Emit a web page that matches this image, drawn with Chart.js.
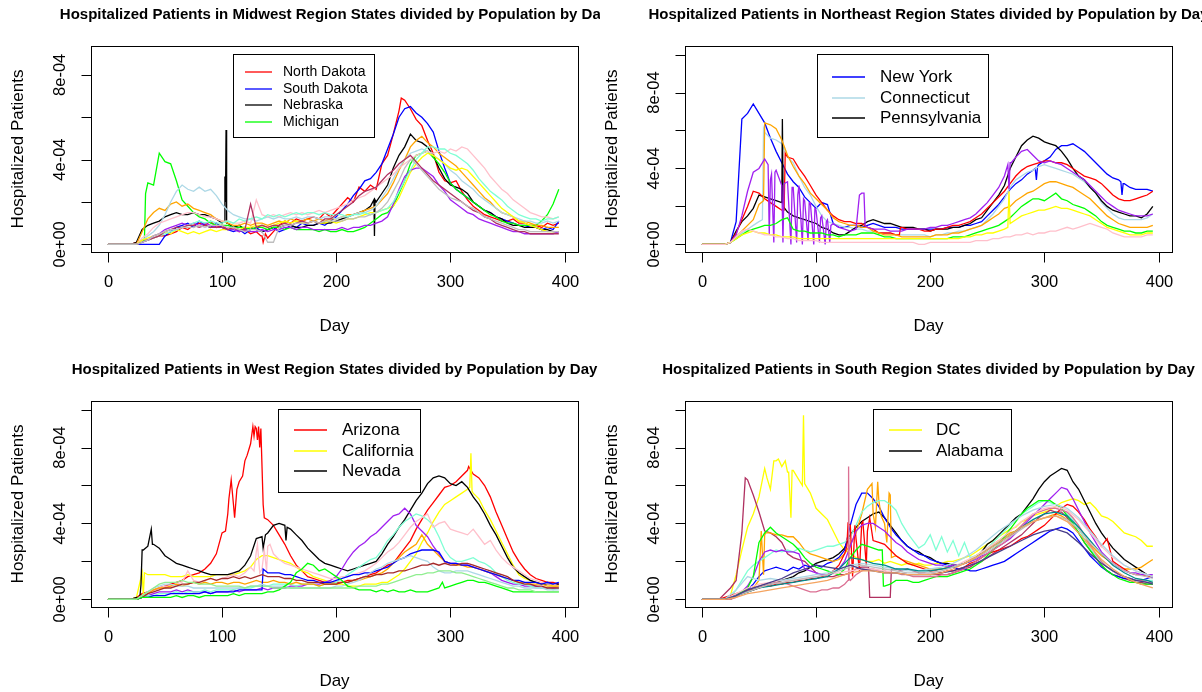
<!DOCTYPE html>
<html>
<head>
<title>Hospitalized Patients by Region</title>
<script src="https://cdn.jsdelivr.net/npm/chart.js"></script>
<style>
    body { margin: 0; background: #fff; }
    .panel { position: absolute; }
</style>
</head>
<body>
<canvas id="midwest" class="panel" width="600" height="345" style="left:0;top:0"></canvas>
<canvas id="northeast" class="panel" width="602" height="345" style="left:600px;top:0"></canvas>
<canvas id="west" class="panel" width="600" height="347" style="left:0;top:345px"></canvas>
<canvas id="south" class="panel" width="602" height="347" style="left:600px;top:345px"></canvas>

<script>
// day grids
const d5 = [0,5,10,15,20,25,30,35,40,45,50,55,60,65,70,75,80,85,90,95,
    100,105,110,115,120,125,130,135,140,145,150,155,160,165,170,175,180,185,190,195,
    200,205,210,215,220,225,230,235,240,245,250,255,260,265,270,275,280,285,290,295,
    300,305,310,315,320,325,330,335,340,345,350,355,360,365,370,375,380,385,390,395];
const d10 = [0,10,20,30,40,50,60,70,80,90,100,110,120,130,140,150,160,170,180,190,
    200,210,220,230,240,250,260,270,280,290,300,310,320,330,340,350,360,370,380,390,395];

const xTicks = [0, 100, 200, 300, 400];

// hospitalized / population, in units of 1e-4

// ---- Midwest ----
const mwNorthDakota = [0,0,0,0,0,0.1,0.2,0.2,0.3,0.4,
    0.4,0.5,0.6,0.8,0.7,0.9,1.0,0.9,1.1,0.8,
    0.9,0.7,0.8,0.6,0.7,0.5,0.6,0.4,0.3,0.6,
    0.9,1.1,1.0,1.2,1.1,1.2,1.3,1.2,1.5,1.3,
    1.6,1.9,2.2,2.0,2.7,2.5,2.8,2.6,3.8,4.2,
    5.2,6.3,6.8,6.4,5.9,5.6,4.9,4.3,3.4,3.0,
    2.9,3.0,2.5,2.1,1.8,1.6,1.4,1.3,1.2,1.1,
    1.1,1.2,1.0,1.0,0.9,0.9,0.8,1.0,0.9,1.0];
const mwNorthDakotaX = [[134,0.4],[136,0.1],[138,0.5],[257,6.9]];
const mwSouthDakota = [0,0,0,0,0,0,0,0,0,0,
    0.4,0.6,0.8,0.9,1.0,0.8,1.1,0.9,0.8,1.0,
    0.8,0.7,0.6,0.7,0.5,0.7,0.8,0.6,0.7,0.8,
    0.6,0.7,0.9,0.8,1.0,0.9,0.9,1.0,0.9,1.1,
    1.3,1.6,1.9,2.3,2.6,3.0,3.1,3.4,3.8,4.5,
    5.2,6.0,6.4,6.5,6.2,6.0,5.7,5.3,4.4,3.6,
    2.9,2.6,2.4,2.2,2.0,1.8,1.6,1.5,1.3,1.2,
    1.1,1.0,0.9,0.9,0.8,0.8,0.7,0.8,0.7,1.1];
const mwNebraska = [0,0,0,0,0,0.1,0.7,0.9,1.0,1.1,
    1.3,1.4,1.5,1.4,1.4,1.5,1.4,1.4,1.3,1.2,
    1.0,1.0,0.8,0.9,0.7,0.8,0.7,0.6,0.7,0.8,
    0.8,0.9,0.9,0.8,0.8,0.9,0.9,1.0,1.0,1.0,
    1.1,1.2,1.3,1.4,1.5,1.6,1.8,2.0,2.4,2.8,
    3.6,4.2,4.6,5.2,4.9,4.8,4.6,4.2,3.6,3.1,
    2.8,2.7,2.6,2.4,2.0,1.8,1.6,1.5,1.3,1.2,
    1.0,0.9,0.9,0.8,0.8,0.8,0.7,0.7,0.6,0.6];
const mwNebraskaX = [[102,1.1],[102.5,3.2],[103,2.0],[103.5,5.4],[104,1.0],[233,2.1],[233.5,0.4],[234,2.1]];
const mwMichigan = [0,0,0,0,0,0,0.1,2.9,2.8,4.3,
    3.9,3.8,3.0,2.1,1.8,1.5,1.3,1.2,1.0,0.9,
    0.9,0.9,0.8,0.8,0.8,0.7,0.8,0.8,0.7,0.8,
    0.8,0.7,0.8,0.7,0.7,0.7,0.7,0.6,0.7,0.6,
    0.6,0.7,0.6,0.6,0.7,0.8,1.0,1.2,1.4,1.5,
    1.8,2.4,3.0,3.8,4.2,4.3,4.4,4.1,3.8,3.4,
    2.9,2.6,2.4,2.2,2.0,1.8,1.6,1.4,1.3,1.1,
    1.0,1.0,0.9,0.9,0.9,0.9,1.1,1.4,1.9,2.6];
const mwMichiganX = [[32,0.2],[33,2.4]];
const mwOrange = [0,0,0,0,0,0,0.6,1.2,1.5,1.7,
    1.6,1.9,2.0,1.8,1.9,1.7,1.6,1.5,1.4,1.2,
    1.1,1.0,0.9,0.9,1.0,0.9,1.0,1.0,0.9,1.0,
    1.1,1.0,1.2,1.1,1.1,1.2,1.1,1.2,1.1,1.2,
    1.2,1.3,1.4,1.4,1.5,1.6,1.7,1.8,2.1,2.4,
    2.9,3.5,4.0,4.6,4.9,5.1,4.8,4.6,4.3,4.1,
    3.9,3.7,3.4,3.1,2.8,2.5,2.2,2.0,1.7,1.5,
    1.4,1.3,1.1,1.1,1.0,0.9,0.9,0.8,0.8,0.8];
const mwLightblue = [0,0,0,0,0,0,0.2,0.4,0.6,0.9,
    1.4,2.0,2.5,2.8,2.6,2.5,2.7,2.5,2.6,2.3,
    1.9,1.6,1.4,1.3,1.2,1.2,1.1,1.2,1.3,1.2,
    1.3,1.2,1.2,1.3,1.2,1.3,1.3,1.2,1.3,1.3,
    1.2,1.3,1.3,1.4,1.5,1.5,1.6,1.8,2.2,2.6,
    3.1,3.6,4.0,4.3,4.4,4.5,4.4,4.2,4.0,3.8,
    3.5,3.3,3.0,2.8,2.6,2.3,2.1,1.9,1.7,1.5,
    1.4,1.3,1.2,1.1,1.1,1.0,1.0,1.1,1.0,1.1];
const mwPink = [0,0,0,0,0,0,0.3,0.5,0.8,1.0,
    1.1,1.2,1.3,1.4,1.5,1.5,1.4,1.3,1.3,1.2,
    1.1,1.1,1.0,1.0,1.1,1.0,2.1,1.4,1.3,1.4,
    1.3,1.4,1.5,1.4,1.5,1.4,1.5,1.6,1.5,1.6,
    1.7,1.8,1.9,2.1,2.2,2.3,2.5,2.7,2.9,3.1,
    3.3,3.6,3.8,4.0,4.2,4.3,4.4,4.3,4.4,4.3,
    4.5,4.4,4.6,4.5,4.2,3.9,3.6,3.2,2.9,2.6,
    2.4,2.1,1.9,1.7,1.5,1.4,1.3,1.3,1.2,1.3];
const mwYellow = [0,0,0,0,0,0,0.2,0.3,0.4,0.5,
    0.6,0.5,0.7,0.6,0.5,0.6,0.5,0.6,0.7,0.6,
    0.7,0.7,0.8,0.7,0.8,0.8,0.9,0.9,0.8,0.9,
    1.0,1.1,1.0,1.1,1.0,1.0,1.1,1.0,1.0,1.1,
    1.0,1.1,1.2,1.2,1.3,1.4,1.5,1.5,1.6,1.7,
    1.8,2.2,2.8,3.4,3.8,4.1,4.3,4.2,4.0,3.8,
    3.6,3.5,3.6,3.5,3.2,2.9,2.6,2.3,2.0,1.7,
    1.5,1.3,1.1,1.0,0.9,0.8,0.7,0.6,0.6,0.6];
const mwPurple = [0,0,0,0,0,0,0.1,0.2,0.4,0.5,
    0.7,0.8,0.9,1.0,0.9,1.0,0.9,1.0,0.9,0.8,
    0.8,0.7,0.7,0.6,0.7,0.6,0.6,0.7,0.6,0.7,
    0.7,0.8,0.8,0.7,0.8,0.8,0.7,0.7,0.7,0.7,
    0.7,0.8,0.7,0.8,0.8,0.9,0.9,1.0,1.1,1.3,
    1.9,2.6,3.2,3.5,3.6,3.6,3.4,3.2,2.8,2.5,
    2.1,1.9,1.7,1.5,1.4,1.2,1.1,1.0,0.9,0.8,
    0.7,0.6,0.6,0.5,0.5,0.5,0.5,0.5,0.5,0.6];
const mwAquamarine = [0,0,0,0,0,0,0.1,0.2,0.3,0.4,
    0.5,0.6,0.7,0.8,0.9,1.0,1.1,1.0,1.1,1.0,
    1.0,1.1,1.0,1.2,1.1,1.2,1.3,1.2,1.4,1.3,
    1.4,1.3,1.4,1.5,1.4,1.5,1.5,1.4,1.5,1.4,
    1.4,1.4,1.3,1.4,1.4,1.5,1.4,1.5,1.6,1.7,
    2.0,2.5,3.0,3.5,4.0,4.3,4.6,4.6,4.5,4.5,
    4.3,4.2,4.0,3.8,3.5,3.1,2.8,2.5,2.3,2.1,
    1.8,1.6,1.4,1.3,1.2,1.2,1.1,1.2,1.2,1.3];
const mwMaroon = [0,0,0,0,0,0,0.1,0.2,0.3,0.4,
    0.6,0.7,0.8,0.8,0.9,0.9,0.8,0.9,0.8,0.8,
    0.8,0.7,0.8,0.7,0.7,1.9,0.8,0.9,0.8,0.9,
    0.9,1.0,0.9,1.0,1.1,1.0,1.1,1.0,1.2,1.2,
    1.4,1.6,1.8,2.0,2.3,2.5,2.6,2.7,3.0,3.3,
    3.5,3.8,4.0,4.2,3.9,3.6,3.3,3.0,2.8,2.6,
    2.4,2.2,2.0,1.8,1.6,1.5,1.3,1.2,1.0,0.9,
    0.8,0.7,0.6,0.6,0.5,0.5,0.5,0.5,0.5,0.5];
const mwGray = [0,0,0,0,0,0,0.1,0.2,0.4,0.5,
    0.6,0.7,0.7,0.8,0.8,0.8,0.9,0.8,0.9,0.9,
    0.9,0.8,0.8,0.7,0.6,0.7,0.7,0.6,0.1,0.1,
    0.8,0.9,0.9,1.0,1.0,1.0,1.1,1.0,1.1,1.1,
    1.1,1.1,1.2,1.2,1.3,1.3,1.4,1.5,1.7,2.0,
    2.5,3.0,3.6,4.0,3.8,3.5,3.2,2.9,2.6,2.4,
    2.2,2.1,2.0,1.8,1.7,1.5,1.3,1.2,1.1,1.0,
    0.9,0.8,0.7,0.7,0.6,0.6,0.6,0.6,0.6,0.6];

// ---- Northeast ----
const neNewYork = [0,0,0,0,0,0.1,1.2,6.6,6.9,7.4,
    6.9,6.4,5.6,4.9,4.3,3.7,3.3,3.0,2.5,2.2,
    1.9,2.2,2.1,1.1,0.9,0.9,1.0,1.0,0.9,1.0,
    1.1,1.0,0.9,0.9,0.9,0.8,0.8,0.8,0.8,0.8,
    0.8,0.8,0.8,0.9,0.9,0.9,1.0,1.0,1.1,1.2,
    1.5,1.8,2.1,2.5,2.9,3.2,3.4,3.7,3.9,4.2,
    4.4,4.6,5.0,5.2,5.2,5.3,5.1,4.9,4.6,4.3,
    4.0,3.7,3.5,3.4,3.2,3.0,2.9,2.9,2.9,2.8];
const neNewYorkX = [[292,4.0],[293,3.4],[294,4.1],[367,3.3],[368,2.6],[369,3.2]];
const neConnecticut = [0,0,0,0,0,0.1,0.3,0.6,0.8,1.0,
    1.2,5.9,5.6,5.5,5.3,4.6,4.3,3.6,3.0,2.6,
    2.0,1.5,1.2,1.1,1.0,0.9,0.9,0.8,0.8,0.7,
    0.7,0.6,0.6,0.6,0.5,0.5,0.5,0.5,0.5,0.5,
    0.4,0.5,0.5,0.6,0.6,0.7,0.7,0.8,0.9,1.0,
    1.3,1.6,2.0,2.4,3.0,3.4,3.6,3.8,3.9,4.1,
    4.2,4.1,4.0,3.9,3.8,3.7,3.5,3.3,3.0,2.7,
    2.2,1.9,1.6,1.4,1.3,1.3,1.3,1.3,1.4,1.6];
const neConnecticutX = [[53,1.3],[54,6.1]];
const nePennsylvania = [0,0,0,0,0,0.1,0.7,1.2,1.5,1.9,
    2.6,2.5,2.4,2.3,2.2,1.7,1.5,1.4,1.3,1.2,
    1.1,0.9,0.8,0.6,0.5,0.5,0.7,0.9,1.0,1.2,
    1.3,1.2,1.1,1.1,1.0,0.9,0.9,0.9,0.8,0.8,
    0.7,0.8,0.8,0.8,0.9,0.9,1.0,1.1,1.3,1.4,
    1.8,2.2,2.6,3.1,4.0,4.6,5.2,5.5,5.7,5.6,
    5.4,5.3,5.2,4.9,4.5,4.0,3.6,3.4,3.0,2.7,
    2.3,2.0,1.8,1.7,1.6,1.5,1.5,1.4,1.6,2.0];
const nePennsylvaniaX = [[70.5,6.6],[71.2,2.0]];
const neRed = [0,0,0,0,0,0.1,0.6,1.3,2.0,2.8,
    2.7,2.4,2.2,2.0,1.8,4.6,4.5,4.0,3.6,3.1,
    2.6,2.2,1.8,1.5,1.3,1.2,1.2,1.1,1.1,0.9,
    0.8,0.6,0.6,0.6,0.5,0.9,0.8,0.8,0.8,0.7,
    0.7,0.8,0.8,0.9,1.0,1.0,1.1,1.2,1.4,1.6,
    1.9,2.2,2.5,2.8,3.2,3.6,3.9,4.1,4.2,4.3,
    4.4,4.4,4.3,4.3,4.2,4.0,3.8,3.6,3.5,3.4,
    3.2,2.9,2.6,2.4,2.3,2.3,2.4,2.5,2.6,2.8];
const neRedX = [[72,1.8],[73,4.8],[173,0.5],[174,0.9]];
const neOrange = [0,0,0,0,0,0.1,0.4,0.7,1.0,1.3,
    2.1,6.4,6.3,6.1,5.5,4.7,4.1,3.6,3.2,2.7,
    2.4,2.1,1.8,1.4,1.2,1.1,1.0,1.0,0.9,0.9,
    0.7,0.6,0.5,0.5,0.5,0.4,0.4,0.4,0.4,0.4,
    0.4,0.5,0.5,0.5,0.6,0.6,0.7,0.8,0.9,1.0,
    1.2,1.4,1.6,1.9,2.0,2.3,2.5,2.7,2.8,3.0,
    3.2,3.3,3.3,3.2,3.1,3.0,2.8,2.6,2.4,2.1,
    1.8,1.5,1.3,1.1,1.0,0.9,0.9,0.9,0.9,1.0];
const neOrangeX = [[54,2.3]];
const nePurple = [0,0,0,0,0,0.1,0.5,1.5,2.8,3.8,
    4.0,4.5,3.4,3.9,3.1,3.3,3.0,3.1,2.3,2.2,
    1.8,1.5,1.3,1.1,0.9,0.8,0.7,0.8,2.7,0.9,
    0.8,0.8,0.8,0.7,0.7,0.7,0.8,0.8,0.8,0.8,
    0.9,0.9,1.0,1.0,1.1,1.2,1.3,1.4,1.6,1.9,
    2.2,2.6,3.0,3.6,4.3,4.6,4.9,5.0,4.7,4.4,
    4.3,4.4,4.3,4.2,4.0,3.8,3.6,3.4,3.1,2.8,
    2.5,2.2,2.0,1.8,1.7,1.6,1.5,1.5,1.5,1.6];
const nePurpleX = [[58,4.2],[59,0.5],[61,3.7],[63,0.1],[64,3.8],[71,0.1],[72,3.2],[78,0],[79,3.0],
    [83,0.1],[84,2.6],[88,0],[89,2.4],[93,0.2],[94,2.2],[98,0],[99,1.9],[103,0.1],[104,1.4],
    [108,0],[109,1.2],[112,0.1],[113,1.0],[138,2.6],[142,2.7],[143,1.0],[268,4.2],[269,2.9],[271,4.3]];
const neGreen = [0,0,0,0,0,0.1,0.3,0.5,0.7,0.8,
    0.9,1.0,1.0,1.1,1.3,1.4,0.8,0.7,0.7,0.6,
    0.6,0.6,0.5,0.5,0.4,0.5,0.5,0.5,0.6,0.6,
    0.6,0.5,0.4,0.4,0.3,0.3,0.3,0.3,0.3,0.3,
    0.3,0.3,0.3,0.3,0.4,0.4,0.4,0.5,0.6,0.7,
    0.8,0.9,1.0,1.2,1.4,1.7,2.0,2.2,2.4,2.4,
    2.3,2.5,2.7,2.4,2.3,2.1,2.0,1.9,1.7,1.5,
    1.2,1.0,0.9,0.8,0.7,0.7,0.6,0.6,0.7,0.7];
const neYellow = [0,0,0,0,0,0.1,0.3,0.5,0.6,0.7,
    0.6,0.6,0.5,0.5,0.4,0.4,0.4,0.3,0.3,0.3,
    0.3,0.3,0.3,0.3,0.3,0.3,0.3,0.3,0.3,0.3,
    0.3,0.3,0.3,0.3,0.3,0.3,0.3,0.3,0.3,0.3,
    0.3,0.3,0.3,0.3,0.3,0.3,0.4,0.4,0.5,0.5,
    0.6,0.6,0.7,0.8,1.1,1.3,1.5,1.6,1.7,1.8,
    1.8,1.9,2.0,1.9,1.9,1.8,1.7,1.6,1.5,1.3,
    1.1,0.9,0.8,0.7,0.6,0.5,0.5,0.5,0.6,0.6];
const neYellowX = [[268,0.9],[269,2.8]];
const nePink = [0,0,0,0,0,0.1,0.4,0.7,0.8,0.7,
    0.6,0.5,0.5,0.4,0.4,0.3,0.3,0.2,0.2,0.2,
    0.2,0.1,0.1,0.1,0.1,0.1,0.1,0.1,0.1,0.1,
    0.1,0.1,0.1,0.1,0.1,0.1,0.1,0.1,0.0,0.0,
    0.1,0.1,0.1,0.1,0.1,0.1,0.1,0.1,0.2,0.2,
    0.2,0.3,0.3,0.4,0.4,0.5,0.5,0.6,0.5,0.6,
    0.6,0.7,0.7,0.8,0.9,0.8,0.9,1.0,1.1,1.0,
    0.9,0.8,0.6,0.5,0.4,0.4,0.4,0.4,0.5,0.5];

// ---- West ----
const wArizona = [0,0,0,0,0,0.1,0.3,0.4,0.5,0.6,
    0.7,0.8,0.9,1.0,1.2,1.3,1.4,1.6,1.9,2.4,
    3.5,4.5,5.0,6.2,7.3,8.2,9.0,7.0,4.2,3.9,
    3.4,2.9,2.3,1.8,1.5,1.2,1.1,1.0,0.9,0.9,
    0.9,0.9,1.0,1.0,1.1,1.2,1.3,1.4,1.6,1.8,
    1.9,2.3,2.7,3.1,3.7,4.2,4.7,5.1,5.5,5.9,
    6.0,6.2,6.5,6.8,6.6,6.4,6.0,5.4,4.6,3.9,
    3.2,2.5,2.0,1.6,1.3,1.1,1.0,0.9,0.9,0.8];
const wArizonaX = [[103,3.6],[106,5.3],[108,6.3],[111,4.3],[113,5.8],[118,6.5],[122,7.6],[127,9.1],
    [128,8.6],[129,9.1],[131,8.4],[132,9.1],[133,8.0],[134,9.0],[136,5.0],[137,4.3],[316,7.0]];
const wCalifornia = [0,0,0,0,0,0.1,1.4,1.3,1.3,1.3,
    1.3,1.2,1.2,1.2,1.3,1.2,1.2,1.2,1.2,1.3,
    1.3,1.3,1.3,1.4,1.5,1.7,2.1,2.3,2.3,2.2,
    2.1,2.0,1.9,1.7,1.5,1.4,1.2,1.1,1.0,0.9,
    0.8,0.8,0.7,0.7,0.7,0.8,0.8,0.8,0.9,0.9,
    1.1,1.3,1.6,2.0,2.4,3.0,3.5,4.1,4.6,5.0,
    5.2,5.4,5.6,5.8,5.6,5.3,4.7,4.2,3.6,3.0,
    2.4,1.8,1.3,1.1,1.0,0.9,0.8,0.8,0.7,0.7];
const wCaliforniaX = [[31,0.2],[32,1.4],[317,5.9],[318,7.7],[319,5.7]];
const wNevada = [0,0,0,0,0,0.1,2.6,2.8,2.9,2.7,
    2.3,2.1,1.9,1.8,1.7,1.6,1.5,1.4,1.3,1.3,
    1.3,1.3,1.4,1.5,1.8,2.3,3.2,3.3,3.5,3.9,
    4.0,3.9,3.7,3.4,3.1,2.7,2.4,2.1,1.9,1.8,
    1.7,1.6,1.5,1.6,1.7,1.8,1.9,2.0,2.4,2.9,
    3.3,3.8,4.2,4.7,5.2,5.6,6.1,6.4,6.5,6.4,
    6.1,6.0,6.2,5.9,5.4,5.0,4.5,3.9,3.4,2.8,
    2.2,1.7,1.4,1.2,1.0,0.9,0.8,0.8,0.8,0.8];
const wNevadaX = [[28,0.1],[29,0.8],[31,2.6],[38,3.7],[39,2.9],[136,2.7],[138,3.4],[156,3.1],[157,3.8]];
const wPurple = [0,0,0,0,0,0,0.1,0.2,0.3,0.4,
    0.4,0.4,0.5,0.4,0.5,0.4,0.4,0.4,0.3,0.4,
    0.4,0.4,0.5,0.4,0.5,0.5,0.5,0.6,0.5,0.6,
    0.6,0.6,0.7,0.7,0.7,0.8,0.8,0.8,0.9,1.0,
    1.2,1.6,2.1,2.5,2.8,3.0,3.3,3.5,3.8,4.1,
    4.4,4.5,4.8,4.5,3.9,3.6,3.3,2.8,2.4,2.0,
    1.9,1.9,1.8,1.8,1.7,1.6,1.5,1.4,1.2,1.0,
    0.9,0.8,0.8,0.7,0.7,0.7,0.6,0.6,0.6,0.6];
const wAquamarine = [0,0,0,0,0,0,0.1,0.2,0.2,0.3,
    0.3,0.3,0.4,0.3,0.4,0.4,0.4,0.5,0.4,0.5,
    0.5,0.5,0.5,0.6,0.6,0.6,0.7,0.7,0.7,0.8,
    0.8,0.8,0.8,0.7,0.8,0.8,0.8,0.7,0.8,0.8,
    0.9,1.1,1.3,1.5,1.7,1.9,2.1,2.2,2.6,3.1,
    3.4,3.8,4.1,4.3,4.5,4.4,4.2,3.9,3.3,2.6,
    2.2,2.0,2.0,2.1,2.2,2.0,1.9,1.7,1.4,1.2,
    1.0,0.9,0.8,0.8,0.7,0.6,0.6,0.6,0.5,0.6];
const wPink = [0,0,0,0,0,0,0.2,0.4,0.5,0.6,
    0.7,0.7,0.8,0.9,1.5,1.0,0.9,1.0,1.1,1.0,
    1.1,1.2,1.3,1.2,1.4,1.7,2.5,1.6,2.8,2.4,
    2.1,1.9,1.8,1.7,1.6,1.5,1.4,1.3,1.2,1.1,
    1.1,1.2,1.2,1.3,1.4,1.5,1.7,1.9,2.2,2.5,
    2.7,3.0,3.4,3.8,4.1,4.3,4.5,3.8,4.0,4.1,
    3.7,3.6,3.5,3.4,3.7,3.3,2.9,3.1,2.6,2.2,
    1.9,1.7,1.5,1.3,1.1,1.0,0.9,0.8,0.8,0.7];
const wPinkX = [[128,1.5],[131,2.9],[133,1.4],[137,2.6],[139,1.5],[142,2.9]];
const wOrange = [0,0,0,0,0,0,0.2,0.3,0.5,0.6,
    0.6,0.7,0.8,0.7,0.8,0.9,0.8,0.9,0.8,0.9,
    0.9,0.8,0.9,0.9,0.8,0.9,1.0,0.9,0.9,1.0,
    0.9,0.9,0.8,0.9,0.8,0.8,0.8,0.7,0.8,0.8,
    0.8,0.9,0.9,1.0,1.0,1.1,1.2,1.3,1.4,1.6,
    1.9,2.2,2.5,2.7,2.9,3.4,2.9,2.6,2.3,2.0,
    1.9,1.8,1.8,1.7,1.7,1.6,1.5,1.4,1.3,1.2,
    1.1,1.0,0.9,0.9,0.8,0.8,0.8,0.7,0.7,0.7];
const wBlue = [0,0,0,0,0,0,0.1,0.1,0.2,0.2,
    0.2,0.3,0.3,0.3,0.3,0.3,0.3,0.4,0.3,0.4,
    0.4,0.4,0.4,0.5,0.5,0.5,0.5,0.5,1.4,1.4,
    1.4,1.3,1.3,1.2,1.1,1.0,1.0,0.9,0.9,0.9,
    1.0,1.1,1.2,1.3,1.3,1.4,1.4,1.5,1.6,1.7,
    1.9,2.1,2.2,2.4,2.5,2.6,2.6,2.6,2.5,2.0,
    1.9,1.9,1.8,1.8,1.7,1.6,1.5,1.4,1.3,1.2,
    1.1,1.0,1.0,0.9,0.9,0.9,0.8,0.9,0.8,0.9];
const wBlueX = [[136,1.6]];
const wLightblue = [0,0,0,0,0,0,0.2,0.4,0.6,0.7,
    0.8,0.8,0.7,0.7,0.7,0.6,0.6,0.6,0.6,0.6,
    0.6,0.6,0.6,0.6,0.6,0.7,0.7,0.8,0.7,0.7,
    0.7,0.7,0.6,0.6,0.6,0.6,0.6,0.6,0.6,0.6,
    0.7,0.7,0.8,0.9,1.0,1.2,1.4,1.6,1.7,1.9,
    2.0,2.1,2.2,2.3,2.2,2.1,2.0,1.7,1.5,1.4,
    1.4,1.5,1.5,1.5,1.4,1.3,1.2,1.1,1.0,0.9,
    0.8,0.7,0.7,0.6,0.6,0.6,0.6,0.5,0.5,0.5];
const wBrown = [0,0,0,0,0,0,0.1,0.3,0.4,0.5,
    0.6,0.6,0.7,0.8,0.8,0.9,0.9,1.0,1.1,1.0,
    1.1,1.1,1.2,1.1,1.2,1.1,1.2,1.3,1.2,1.2,
    1.2,1.1,1.1,1.0,1.0,0.9,0.9,0.9,0.8,0.8,
    0.8,0.9,0.9,1.0,1.1,1.2,1.2,1.3,1.3,1.4,
    1.4,1.5,1.5,1.6,1.7,1.8,1.8,1.9,1.8,1.9,
    1.8,1.8,1.9,1.9,1.8,1.7,1.6,1.5,1.4,1.3,
    1.2,1.0,0.9,0.8,0.8,0.7,0.7,0.6,0.6,0.6];
const wGreen = [0,0,0,0,0,0,0.1,0.1,0.1,0.1,
    0.1,0.1,0.2,0.1,0.2,0.2,0.1,0.2,0.2,0.2,
    0.2,0.2,0.3,0.2,0.3,0.3,0.3,0.3,0.4,0.4,
    0.5,0.7,0.9,1.4,1.6,1.9,1.8,1.5,1.6,1.4,
    1.2,1.0,0.7,0.6,0.5,0.5,0.5,0.4,0.5,0.4,
    0.5,0.4,0.4,0.5,0.4,0.4,0.4,0.5,0.6,0.6,
    0.7,0.8,0.9,1.0,1.0,0.9,0.9,0.8,0.7,0.6,
    0.5,0.4,0.4,0.4,0.4,0.4,0.4,0.4,0.4,0.4];
const wGreenX = [[293,0.9]];
const wLightgreen = [0,0,0,0,0,0,0.2,0.4,0.6,0.8,
    0.9,0.9,0.9,1.0,0.9,0.9,0.8,0.8,0.8,0.7,
    0.7,0.7,0.7,0.7,0.6,0.7,0.7,0.7,0.7,0.6,
    0.6,0.6,0.6,0.6,0.6,0.6,0.6,0.6,0.6,0.6,
    0.6,0.6,0.6,0.6,0.7,0.7,0.7,0.7,0.8,0.8,
    0.9,1.0,1.1,1.2,1.3,1.3,1.4,1.4,1.5,1.5,
    1.5,1.4,1.4,1.3,1.2,1.1,1.0,0.9,0.8,0.7,
    0.6,0.6,0.5,0.5,0.5,0.4,0.4,0.4,0.4,0.4];

// ---- South ----
const sDC = [0,0,0,0,0,0.2,1.3,2.6,3.8,4.5,
    5.4,6.9,5.8,7.3,7.0,6.7,6.8,6.3,6.1,5.6,
    4.8,4.5,4.2,3.6,3.0,2.6,2.4,2.2,2.1,2.0,
    2.0,2.1,1.9,2.0,1.9,1.8,1.9,1.8,1.9,1.8,
    1.8,1.9,1.9,2.0,2.0,2.1,2.2,2.3,2.5,2.7,
    2.9,3.1,3.3,3.5,3.7,3.8,4.1,4.2,4.4,4.5,
    4.6,4.7,4.9,5.1,5.2,5.3,5.2,5.0,5.1,4.8,
    4.4,4.3,4.1,3.8,3.5,3.4,3.3,3.1,2.8,2.8];
const sDCX = [[57,6.4],[63,7.3],[67,7.4],[73,7.3],[76,6.7],[78,4.3],[79,6.8],[88,6.0],[89,9.7]];
const sAlabama = [0,0,0,0,0,0.1,0.2,0.3,0.4,0.5,
    0.6,0.7,0.8,0.9,1.0,1.1,1.2,1.4,1.5,1.7,
    1.9,2.0,2.1,2.2,2.4,2.7,3.4,3.8,4.1,4.3,
    4.5,4.6,4.3,3.9,3.5,3.1,2.8,2.6,2.5,2.3,
    2.2,2.0,1.9,1.9,1.8,1.8,1.9,2.0,2.2,2.5,
    2.9,3.1,3.4,3.7,4.0,4.3,4.5,4.9,5.3,5.8,
    6.2,6.5,6.7,6.9,6.8,6.2,5.8,5.2,4.6,4.0,
    3.5,3.1,2.7,2.4,2.1,1.9,1.7,1.5,1.3,1.2];
const sMaroon = [0,0,0,0,0.3,0.6,1.0,3.5,6.3,5.5,
    4.6,3.6,3.5,3.3,3.0,2.4,2.2,2.1,2.0,1.7,
    1.4,1.3,1.2,1.2,1.3,1.3,1.4,1.6,1.7,1.7,
    0.1,0.1,0.1,0.1,1.6,1.5,1.6,1.5,1.4,1.4,
    1.3,1.3,1.3,1.3,1.4,1.5,1.6,1.7,1.9,2.0,
    2.2,2.4,2.6,2.8,3.0,3.2,3.4,3.7,4.0,4.3,
    4.5,4.7,4.6,4.6,4.3,3.9,3.5,3.0,2.6,2.2,
    1.8,1.5,1.3,1.2,1.1,1.0,0.9,0.9,0.8,0.8];
const sMaroonX = [[38,6.4],[146,1.7],[147,0.1],[166,1.6]];
const sBlue = [0,0,0,0,0,0.1,0.2,0.3,0.5,0.8,
    1.2,1.5,1.6,1.7,1.6,1.5,1.7,1.6,1.8,1.7,
    1.8,1.7,1.9,2.0,2.2,2.6,3.9,5.0,5.6,5.6,
    5.3,4.9,4.3,3.8,3.4,3.1,2.8,2.6,2.4,2.3,
    2.1,2.0,1.9,1.8,1.7,1.6,1.6,1.5,1.5,1.6,
    1.7,1.8,1.9,2.0,2.2,2.4,2.6,2.8,3.0,3.2,
    3.4,3.6,3.7,3.8,3.7,3.5,3.1,2.7,2.3,2.0,
    1.7,1.5,1.3,1.2,1.1,1.1,1.0,1.0,1.1,1.2];
const sOrange = [0,0,0,0,0,0,0.2,0.3,0.4,0.6,
    1.0,3.4,3.5,3.4,3.4,3.3,3.3,3.0,2.6,2.4,
    2.3,2.2,2.1,2.0,2.1,2.4,2.9,3.5,4.5,5.8,
    4.5,5.2,4.0,5.5,2.3,2.1,2.0,1.9,1.8,1.7,
    1.6,1.6,1.6,1.7,1.7,1.8,1.9,2.1,2.3,2.5,
    2.7,2.9,3.1,3.3,3.5,3.6,3.8,3.9,4.1,4.2,
    4.3,4.4,4.5,4.4,4.2,3.9,3.5,3.2,2.9,2.6,
    2.3,2.1,1.9,1.7,1.6,1.6,1.6,1.7,1.9,2.1];
const sOrangeX = [[52,3.6],[54,1.3],[56,3.5],[149,6.1],[152,3.8],[154,6.2],[157,4.4],[162,3.0],[164,5.6],[166,2.2]];
const sAquamarine = [0,0,0,0,0,0.1,0.5,1.0,1.5,1.8,
    2.0,2.2,2.4,2.6,2.5,2.6,2.5,2.7,2.6,2.5,
    2.6,2.7,2.8,2.8,2.9,3.0,3.3,3.9,4.6,4.9,
    5.1,5.2,5.2,5.0,4.7,4.0,3.5,3.1,2.7,2.9,
    3.4,2.6,3.3,2.5,3.1,2.3,3.0,2.2,2.3,2.5,
    2.7,3.0,3.3,3.6,3.9,4.2,4.5,4.7,4.9,5.1,
    5.2,5.1,5.0,4.8,4.5,4.2,3.7,3.2,2.7,2.3,
    2.0,1.7,1.5,1.3,1.2,1.1,1.0,1.0,1.0,1.0];
const sRed = [0,0,0,0,0.1,0.2,0.3,0.4,0.5,0.5,
    0.6,0.7,0.7,0.8,0.8,0.9,0.9,1.0,1.0,1.1,
    1.1,1.2,1.3,1.5,1.8,2.4,3.9,3.2,4.0,3.6,
    3.1,3.0,2.9,2.6,2.3,2.1,1.9,1.8,1.7,1.6,
    1.5,1.5,1.4,1.5,1.5,1.6,1.7,1.9,2.0,2.2,
    2.4,2.5,2.6,2.7,2.8,3.0,3.2,3.3,3.5,3.7,
    3.9,4.2,4.5,4.8,5.0,4.9,4.6,4.2,3.7,3.3,
    2.8,3.2,2.0,1.8,1.6,1.4,1.3,1.3,1.2,1.2];
const sRedX = [[127,2.8],[128,4.0],[132,1.2],[134,3.9],[138,1.5],[141,4.1],[144,1.8],[147,4.3]];
const sPurple = [0,0,0,0,0,0,0.2,0.4,0.7,1.2,
    2.0,2.5,2.6,2.5,2.6,2.5,2.5,2.4,1.6,1.5,
    1.4,1.3,1.3,1.4,1.6,2.0,2.8,3.6,3.9,4.0,
    4.0,3.8,3.6,3.3,3.0,2.8,2.5,2.3,2.1,2.0,
    1.9,1.8,1.8,1.7,1.8,1.8,1.9,2.0,2.1,2.3,
    2.4,2.6,2.8,3.0,3.2,3.5,3.8,4.1,4.4,4.7,
    5.0,5.3,5.6,5.9,5.8,5.3,4.7,4.1,3.5,3.0,
    2.5,2.2,1.9,1.7,1.5,1.4,1.4,1.3,1.3,1.3];
const sGreen = [0,0,0,0,0,0,0.2,0.4,0.6,1.2,
    3.0,3.5,3.8,3.5,3.3,3.1,2.9,2.6,2.2,1.9,
    1.7,1.6,1.5,1.4,1.3,1.6,2.2,2.6,2.9,2.8,
    2.7,2.6,0.7,0.8,1.0,1.0,1.0,0.9,0.9,1.0,
    1.1,1.2,1.2,1.2,1.3,1.4,1.5,1.6,1.8,2.0,
    2.3,2.6,2.9,3.3,3.7,4.1,4.5,4.8,5.0,5.2,
    5.2,5.2,5.0,4.8,4.4,4.0,3.5,3.0,2.6,2.2,
    1.8,1.5,1.3,1.1,1.0,0.9,0.9,0.8,0.8,0.8];
const sGreenX = [[158,2.6],[159,0.7]];
const sVioletRed = [0,0,0,0,0,0,0.1,0.3,0.5,0.6,
    0.7,0.8,0.8,0.9,0.9,0.8,0.7,0.6,0.5,0.4,
    0.4,0.5,0.5,0.6,0.6,0.8,1.0,1.3,1.5,1.6,
    1.6,1.5,1.5,1.4,1.4,1.3,1.3,1.2,1.2,1.2,
    1.2,1.2,1.3,1.3,1.4,1.5,1.6,1.8,2.0,2.2,
    2.4,2.6,2.8,3.0,3.3,3.6,3.9,4.2,4.5,4.6,
    4.7,4.8,4.8,4.7,4.6,4.3,3.9,3.4,2.9,2.4,
    2.0,1.7,1.5,1.3,1.2,1.1,1.0,1.0,0.9,0.9];
const sVioletRedX = [[128,1.0],[128.5,7.0],[129,1.1]];
// 10-day grid
const sPink = [0,0,0,0.3,0.6,0.8,0.9,1.0,1.0,1.1,
    1.2,1.3,1.4,1.5,1.6,1.6,1.5,1.4,1.3,1.3,
    1.4,1.5,1.7,2.0,2.3,2.7,3.1,3.6,4.1,4.5,
    4.8,4.9,4.7,4.2,3.5,2.8,2.2,1.8,1.5,1.3,1.2];
const sLightblue = [0,0,0,0.5,1.2,1.0,1.1,1.0,1.1,1.2,
    1.3,1.4,1.6,1.8,1.9,1.8,1.7,1.6,1.5,1.5,
    1.6,1.7,1.9,2.2,2.6,3.1,3.6,4.0,4.4,4.7,
    4.9,5.0,4.8,4.3,3.6,2.9,2.3,1.8,1.5,1.3,1.2];
const sTeal = [0,0,0,0.2,0.4,0.6,0.7,0.8,0.9,1.0,
    1.1,1.2,1.6,2.2,2.1,1.9,1.8,1.6,1.6,1.5,
    1.5,1.6,1.7,1.9,2.2,2.6,3.0,3.4,3.8,4.2,
    4.5,4.6,4.4,3.8,3.1,2.4,1.8,1.4,1.1,1.0,0.9];
const sGray = [0,0,0,0.2,0.4,0.6,0.8,0.9,1.0,1.1,
    1.2,1.3,1.5,1.7,1.8,1.7,1.6,1.5,1.4,1.4,
    1.4,1.5,1.7,1.9,2.2,2.5,2.9,3.3,3.7,4.1,
    4.3,4.4,4.2,3.7,3.0,2.4,1.9,1.5,1.3,1.2,1.1];
const sSlateBlue = [0,0,0,0.2,0.5,0.7,0.9,1.1,1.4,1.6,
    1.8,1.7,1.6,1.8,1.6,1.5,1.4,1.4,1.3,1.3,
    1.3,1.4,1.5,1.7,1.9,2.2,2.5,2.8,3.1,3.4,
    3.6,3.7,3.5,3.0,2.4,1.9,1.5,1.2,1.0,0.9,0.8];
const sSandy = [0,0,0,0.1,0.3,0.4,0.5,0.6,0.7,0.8,
    0.9,1.0,1.2,1.4,1.5,1.5,1.4,1.4,1.3,1.3,
    1.3,1.4,1.6,1.9,2.2,2.6,3.0,3.4,3.8,4.1,
    4.3,4.4,4.1,3.5,2.8,2.1,1.6,1.2,0.9,0.7,0.6];

// ---- panel setup ----
function pts(grid, vals, extra) {
    const p = vals.map((v, i) => ({ x: grid[i], y: v * 1e-4 }));
    (extra || []).forEach(([d, v]) => p.push({ x: d, y: v * 1e-4 }));
    return p.sort((a, b) => a.x - b.x);
}

const FONT = '"Liberation Sans", Arial, sans-serif';

function drawFrame(cfg) {
    return {
        id: 'rFrame',
        afterDraw(chart) {
            const { ctx, chartArea: a, scales: { x, y } } = chart;
            const L = Math.round(a.left) + 0.5, B = Math.round(a.bottom) + 0.5;
            ctx.save();
            ctx.strokeStyle = '#000';
            ctx.fillStyle = '#000';
            ctx.lineWidth = 1;
            ctx.strokeRect(L, Math.round(a.top) + 0.5, Math.round(a.right - a.left), Math.round(a.bottom - a.top));

            ctx.font = '16.5px ' + FONT;
            ctx.textAlign = 'center';
            ctx.textBaseline = 'middle';
            ctx.beginPath();
            xTicks.forEach(t => {
                const px = Math.round(x.getPixelForValue(t)) + 0.5;
                ctx.moveTo(px, B); ctx.lineTo(px, B + 10);
                ctx.fillText(String(t), px, a.bottom + 30);
            });
            cfg.yTicks.forEach(t => {
                const py = Math.round(y.getPixelForValue(t * 1e-4)) + 0.5;
                ctx.moveTo(L - 10, py); ctx.lineTo(L, py);
            });
            ctx.stroke();
            cfg.yTicks.forEach((t, i) => {
                if (!cfg.yLabels[i]) return;
                ctx.save();
                ctx.translate(a.left - 31, y.getPixelForValue(t * 1e-4));
                ctx.rotate(-Math.PI / 2);
                ctx.fillText(cfg.yLabels[i], 0, 0);
                ctx.restore();
            });

            ctx.font = '17px ' + FONT;
            ctx.fillText('Day', (a.left + a.right) / 2, a.bottom + 74);
            ctx.save();
            ctx.translate(a.left - 73, (a.top + a.bottom) / 2);
            ctx.rotate(-Math.PI / 2);
            ctx.fillText('Hospitalized Patients', 0, 0);
            ctx.restore();

            ctx.font = 'bold 15px ' + FONT;
            ctx.fillText(cfg.title, (a.left + a.right) / 2, a.top - 31);

            // legend
            const lg = cfg.legend;
            ctx.strokeRect(lg.x + 0.5, lg.y + 0.5, lg.w, lg.h);
            ctx.font = lg.size + 'px ' + FONT;
            ctx.textAlign = 'left';
            ctx.lineWidth = 1.3;
            cfg.legendLabels.forEach((lab, i) => {
                const ry = lg.rows[i];
                ctx.strokeStyle = cfg.series[i].color;
                ctx.beginPath();
                ctx.moveTo(lg.x0, ry); ctx.lineTo(lg.x1, ry);
                ctx.stroke();
                ctx.fillText(lab, lg.tx, ry);
            });
            ctx.restore();
        }
    };
}

function makePanel(id, cfg) {
    new Chart(document.getElementById(id), {
        type: 'line',
        data: {
            datasets: cfg.series.map((s, i) => ({
                label: s.label,
                data: pts(s.grid || d5, s.values, s.extra),
                borderColor: s.color,
                borderWidth: 1.3,
                pointRadius: 0,
                fill: false,
                tension: 0,
                order: -i
            }))
        },
        options: {
            responsive: false,
            animation: false,
            parsing: false,
            layout: { padding: cfg.pad },
            plugins: { legend: { display: false }, tooltip: { enabled: false } },
            scales: {
                x: { type: 'linear', min: -14.8, max: 411.8, display: false },
                y: { min: cfg.yRange[0] * 1e-4, max: cfg.yRange[1] * 1e-4, display: false }
            }
        },
        plugins: [drawFrame(cfg)]
    });
}

makePanel('midwest', {
    title: 'Hospitalized Patients in Midwest Region States divided by Population by Day',
    pad: { left: 91, right: 22, top: 46, bottom: 93 },
    yRange: [-0.36, 9.36],
    yTicks: [0, 2, 4, 6, 8],
    yLabels: ['0e+00', '', '4e-04', '', '8e-04'],
    legendLabels: ['North Dakota', 'South Dakota', 'Nebraska', 'Michigan'],
    legend: { x: 233, y: 54, w: 141, h: 83, rows: [72, 89, 105, 122], x0: 245, x1: 272, tx: 283, size: 14 },
    series: [
        { label: 'North Dakota', color: '#FF0000', values: mwNorthDakota, extra: mwNorthDakotaX },
        { label: 'South Dakota', color: '#0000FF', values: mwSouthDakota },
        { label: 'Nebraska', color: '#000000', values: mwNebraska, extra: mwNebraskaX },
        { label: 'Michigan', color: '#00FF00', values: mwMichigan, extra: mwMichiganX },
        { label: 'orange', color: '#FFA500', values: mwOrange },
        { label: 'lightblue', color: '#ADD8E6', values: mwLightblue },
        { label: 'pink', color: '#FFC0CB', values: mwPink },
        { label: 'yellow', color: '#FFFF00', values: mwYellow },
        { label: 'purple', color: '#A020F0', values: mwPurple },
        { label: 'aquamarine', color: '#7FFFD4', values: mwAquamarine },
        { label: 'maroon', color: '#B03060', values: mwMaroon },
        { label: 'gray', color: '#BEBEBE', values: mwGray }
    ]
});

makePanel('northeast', {
    title: 'Hospitalized Patients in Northeast Region States divided by Population by Day',
    pad: { left: 85, right: 30, top: 46, bottom: 93 },
    yRange: [-0.402, 10.452],
    yTicks: [0, 2, 4, 6, 8, 10],
    yLabels: ['0e+00', '', '4e-04', '', '8e-04', ''],
    legendLabels: ['New York', 'Connecticut', 'Pennsylvania'],
    legend: { x: 217, y: 54, w: 171, h: 83, rows: [77, 98, 118], x0: 232, x1: 265, tx: 280, size: 17 },
    series: [
        { label: 'New York', color: '#0000FF', values: neNewYork, extra: neNewYorkX },
        { label: 'Connecticut', color: '#ADD8E6', values: neConnecticut, extra: neConnecticutX },
        { label: 'Pennsylvania', color: '#000000', values: nePennsylvania, extra: nePennsylvaniaX },
        { label: 'red', color: '#FF0000', values: neRed, extra: neRedX },
        { label: 'orange', color: '#FFA500', values: neOrange, extra: neOrangeX },
        { label: 'purple', color: '#A020F0', values: nePurple, extra: nePurpleX },
        { label: 'green', color: '#00FF00', values: neGreen },
        { label: 'yellow', color: '#FFFF00', values: neYellow, extra: neYellowX },
        { label: 'pink', color: '#FFC0CB', values: nePink }
    ]
});

makePanel('west', {
    title: 'Hospitalized Patients in West Region States divided by Population by Day',
    pad: { left: 91, right: 22, top: 56, bottom: 85 },
    yRange: [-0.402, 10.452],
    yTicks: [0, 2, 4, 6, 8, 10],
    yLabels: ['0e+00', '', '4e-04', '', '8e-04', ''],
    legendLabels: ['Arizona', 'California', 'Nevada'],
    legend: { x: 278, y: 64, w: 142, h: 83, rows: [85, 106, 126], x0: 294, x1: 327, tx: 342, size: 17 },
    series: [
        { label: 'Arizona', color: '#FF0000', values: wArizona, extra: wArizonaX },
        { label: 'California', color: '#FFFF00', values: wCalifornia, extra: wCaliforniaX },
        { label: 'Nevada', color: '#000000', values: wNevada, extra: wNevadaX },
        { label: 'purple', color: '#A020F0', values: wPurple },
        { label: 'aquamarine', color: '#7FFFD4', values: wAquamarine },
        { label: 'pink', color: '#FFC0CB', values: wPink, extra: wPinkX },
        { label: 'orange', color: '#FFA500', values: wOrange },
        { label: 'blue', color: '#0000FF', values: wBlue, extra: wBlueX },
        { label: 'lightblue', color: '#ADD8E6', values: wLightblue },
        { label: 'brown', color: '#A52A2A', values: wBrown },
        { label: 'green', color: '#00FF00', values: wGreen, extra: wGreenX },
        { label: 'lightgreen', color: '#90EE90', values: wLightgreen }
    ]
});

makePanel('south', {
    title: 'Hospitalized Patients in South Region States divided by Population by Day',
    pad: { left: 85, right: 30, top: 56, bottom: 85 },
    yRange: [-0.402, 10.452],
    yTicks: [0, 2, 4, 6, 8, 10],
    yLabels: ['0e+00', '', '4e-04', '', '8e-04', ''],
    legendLabels: ['DC', 'Alabama'],
    legend: { x: 273, y: 64, w: 138, h: 62, rows: [85, 106], x0: 289, x1: 322, tx: 336, size: 17 },
    series: [
        { label: 'DC', color: '#FFFF00', values: sDC, extra: sDCX },
        { label: 'Alabama', color: '#000000', values: sAlabama },
        { label: 'maroon', color: '#B03060', values: sMaroon, extra: sMaroonX },
        { label: 'blue', color: '#0000FF', values: sBlue },
        { label: 'orange', color: '#FFA500', values: sOrange, extra: sOrangeX },
        { label: 'aquamarine', color: '#7FFFD4', values: sAquamarine },
        { label: 'red', color: '#FF0000', values: sRed, extra: sRedX },
        { label: 'purple', color: '#A020F0', values: sPurple },
        { label: 'green', color: '#00FF00', values: sGreen, extra: sGreenX },
        { label: 'palevioletred', color: '#DB7093', values: sVioletRed, extra: sVioletRedX },
        { label: 'pink', color: '#FFC0CB', grid: d10, values: sPink },
        { label: 'lightblue', color: '#ADD8E6', grid: d10, values: sLightblue },
        { label: 'darkcyan', color: '#008B8B', grid: d10, values: sTeal },
        { label: 'gray', color: '#BEBEBE', grid: d10, values: sGray },
        { label: 'slateblue', color: '#483D8B', grid: d10, values: sSlateBlue },
        { label: 'sandybrown', color: '#F4A460', grid: d10, values: sSandy }
    ]
});
</script>
</body>
</html>
